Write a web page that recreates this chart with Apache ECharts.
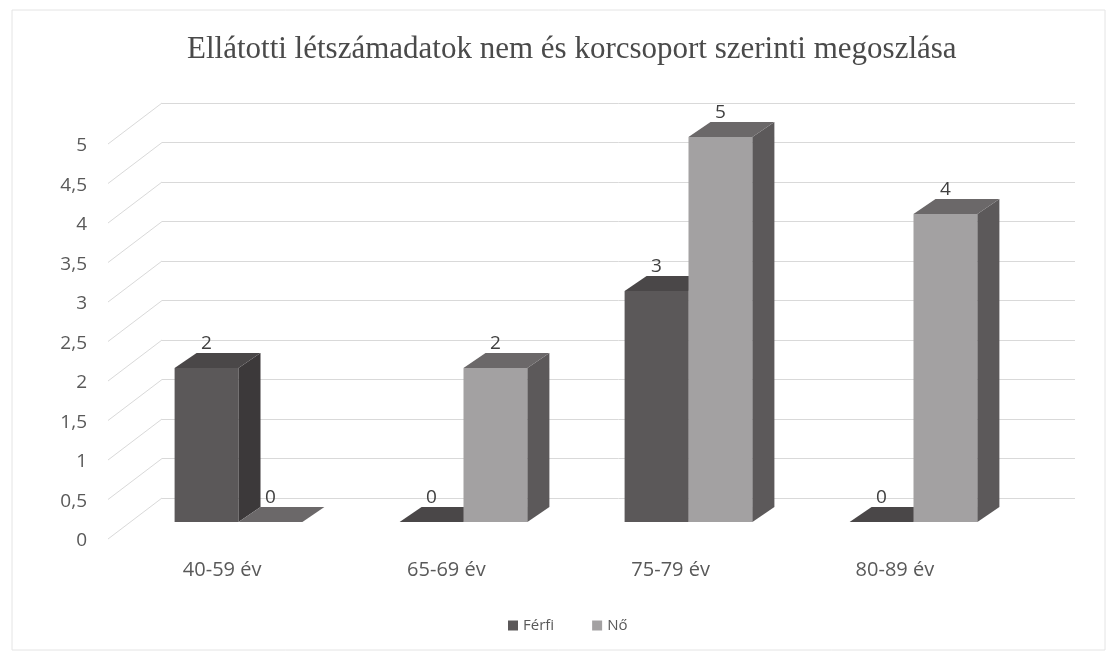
<!DOCTYPE html>
<html>
<head>
<meta charset="utf-8">
<script src="https://cdn.jsdelivr.net/npm/echarts@6/dist/echarts.min.js"></script>
<style>
  html, body { margin: 0; padding: 0; background: #fff; }
  #chart { width: 1117px; height: 658px; }
</style>
</head>
<body>
<div id="chart"></div>
<script>
// adatok
const categories = ['40-59 év', '65-69 év', '75-79 év', '80-89 év'];
const ferfi = [2, 0, 3, 0];
const no = [0, 2, 5, 4];
const yTicks = [0, 0.5, 1, 1.5, 2, 2.5, 3, 3.5, 4, 4.5, 5];

const chart = echarts.init(document.getElementById('chart'));

// 3D hatás eltolása
const DX = 22, DY = 15;
const FONT = '"Open Sans", "Noto Sans", sans-serif';

// oszlop rajzolása (elő-, felső és oldallap)
const makeBar = (left, colors) => (params, api) => {
  const cat = api.value(0);
  const v = api.value(1);
  const base = api.coord([cat, 0]);
  const top = api.coord([cat, v]);
  const barW = api.size([1, 0])[0] * 0.284;
  const x0 = left ? base[0] - barW : base[0];
  const x1 = x0 + barW;
  return {
    type: 'group',
    children: [
      {
        type: 'rect',
        shape: { x: x0, y: top[1], width: barW, height: base[1] - top[1] },
        style: { fill: colors.front }
      },
      {
        type: 'polygon',
        shape: { points: [[x1, top[1]], [x1 + DX, top[1] - DY], [x1 + DX, base[1] - DY], [x1, base[1]]] },
        style: { fill: colors.side }
      },
      {
        type: 'polygon',
        shape: { points: [[x0, top[1]], [x0 + DX, top[1] - DY], [x1 + DX, top[1] - DY], [x1, top[1]]] },
        style: { fill: colors.top }
      },
      {
        type: 'text',
        style: {
          text: String(v),
          x: x0 + barW / 2,
          y: top[1] - DY,
          align: 'center',
          verticalAlign: 'bottom',
          font: '19px ' + FONT,
          fill: '#404040'
        }
      }
    ]
  };
};

const ferfiColors = { front: '#5b5859', side: '#3c393a', top: '#4a4748' };
const noColors = { front: '#a3a1a2', side: '#5c595a', top: '#6b6869' };

const option = {
  backgroundColor: '#fff',
  animation: false,
  title: {
    text: 'Ellátotti létszámadatok nem és korcsoport szerinti megoszlása',
    left: 182,
    top: 29,
    textStyle: {
      fontFamily: '"Liberation Serif", "DejaVu Serif", serif',
      fontWeight: 'normal',
      fontSize: 31,
      color: '#4a4a4a'
    }
  },
  legend: {
    top: 613,
    left: 503,
    icon: 'rect',
    itemWidth: 10,
    itemHeight: 10,
    itemGap: 38,
    textStyle: { fontFamily: FONT, fontSize: 15, color: '#595959' },
    data: ['Férfi', 'Nő']
  },
  graphic: [{
    type: 'rect',
    shape: { x: 12, y: 10, width: 1093, height: 640 },
    style: { fill: 'none', stroke: '#e4e4e4', lineWidth: 1 },
    silent: true
  }],
  grid: [
    // hátfal
    { left: 162, right: 42, top: 103, bottom: 160 },
    // elülső tengely (címkék)
    { left: 110, right: 110, top: 146, bottom: 117 },
    // oszlopok
    { left: 126, right: 91, top: 137, bottom: 136 }
  ],
  xAxis: [
    { gridIndex: 0, type: 'value', min: 0, max: 1, show: false },
    {
      gridIndex: 1, type: 'category', data: categories,
      axisLine: { show: false }, axisTick: { show: false },
      axisLabel: { margin: 19, fontFamily: FONT, fontSize: 20, color: '#595959' }
    },
    { gridIndex: 2, type: 'category', data: categories, show: false }
  ],
  yAxis: [
    {
      gridIndex: 0, type: 'value', min: 0, max: 5, interval: 0.5,
      axisLine: { show: false }, axisTick: { show: false }, axisLabel: { show: false },
      splitLine: { lineStyle: { color: '#d9d9d9', width: 1 } }
    },
    {
      gridIndex: 1, type: 'value', min: 0, max: 5, interval: 0.5,
      axisLine: { show: false }, axisTick: { show: false }, splitLine: { show: false },
      axisLabel: {
        margin: 23,
        fontFamily: FONT, fontSize: 19, color: '#595959',
        formatter: v => String(v).replace('.', ',')
      }
    },
    { gridIndex: 2, type: 'value', min: 0, max: 5, show: false }
  ],
  series: [
    {
      // padló felé futó ferde vonalak
      type: 'custom',
      xAxisIndex: 0, yAxisIndex: 0,
      silent: true,
      data: yTicks.map(t => [0, t]),
      renderItem: (params, api) => {
        const p = api.coord([0, api.value(1)]);
        return {
          type: 'line',
          shape: { x1: p[0], y1: p[1], x2: p[0] - 54, y2: p[1] + 41 },
          style: { stroke: '#d9d9d9', lineWidth: 1 }
        };
      }
    },
    {
      name: 'Férfi',
      type: 'custom',
      xAxisIndex: 2, yAxisIndex: 2,
      itemStyle: { color: ferfiColors.front },
      data: ferfi.map((v, i) => [i, v]),
      renderItem: makeBar(true, ferfiColors)
    },
    {
      name: 'Nő',
      type: 'custom',
      xAxisIndex: 2, yAxisIndex: 2,
      itemStyle: { color: noColors.front },
      data: no.map((v, i) => [i, v]),
      renderItem: makeBar(false, noColors)
    }
  ]
};

chart.setOption(option);
window.addEventListener('resize', () => chart.resize());
</script>
</body>
</html>
